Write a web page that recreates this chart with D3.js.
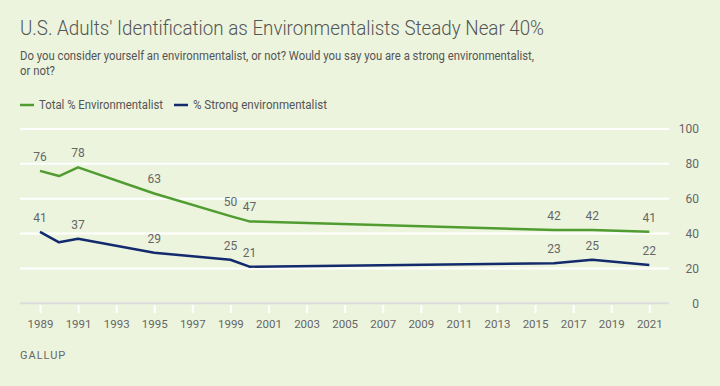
<!DOCTYPE html>
<html>
<head>
<meta charset="utf-8">
<script src="https://cdn.jsdelivr.net/npm/d3@7"></script>
<style>
  body { margin: 0; background: #ecf4de; }
  svg { display: block; font-family: Roboto, "Noto Sans", sans-serif; }
</style>
</head>
<body>
<svg id="chart" width="720" height="386"></svg>
<script>
// data
const years = [1989, 1990, 1991, 1995, 1999, 2000, 2016, 2018, 2021]
const totalEnv = [76, 73, 78, 63, 50, 47, 42, 42, 41]
const strongEnv = [41, 35, 37, 29, 25, 21, 23, 25, 22]
const labelledYears = [1989, 1991, 1995, 1999, 2000, 2016, 2018, 2021]
const xTicks = d3.range(1989, 2022, 2)
const yTicks = [0, 20, 40, 60, 80, 100]

const green = "#519c30"
const navy = "#132a6c"

const svg = d3.select("#chart")
svg.append("rect").attr("width", 720).attr("height", 386).attr("fill", "#ecf4de")

// title + question
svg.append("text")
    .attr("x", 20).attr("y", 35)
    .attr("font-size", 20).attr("font-weight", 300).attr("fill", "#555")
    .attr("textLength", 524).attr("lengthAdjust", "spacingAndGlyphs")
    .text("U.S. Adults' Identification as Environmentalists Steady Near 40%")

svg.append("text")
    .attr("x", 20).attr("y", 60)
    .attr("font-size", 12.5).attr("fill", "#555")
    .attr("textLength", 514).attr("lengthAdjust", "spacingAndGlyphs")
    .text("Do you consider yourself an environmentalist, or not? Would you say you are a strong environmentalist,")
svg.append("text")
    .attr("x", 20).attr("y", 75)
    .attr("font-size", 12.5).attr("fill", "#555")
    .attr("textLength", 35).attr("lengthAdjust", "spacingAndGlyphs")
    .text("or not?")

// legend
const legend = [
    {name: "Total % Environmentalist", color: green, x: 20, w: 124},
    {name: "% Strong environmentalist", color: navy, x: 174, w: 134}
]
legend.forEach(l => {
    svg.append("line")
        .attr("x1", l.x).attr("x2", l.x + 14)
        .attr("y1", 105).attr("y2", 105)
        .attr("stroke", l.color).attr("stroke-width", 2.5)
    svg.append("text")
        .attr("x", l.x + 19).attr("y", 109)
        .attr("font-size", 12).attr("fill", "#555")
        .attr("textLength", l.w).attr("lengthAdjust", "spacingAndGlyphs")
        .text(l.name)
})

// scales
const x = d3.scaleLinear().domain([1989, 2021]).range([40, 649.3])
const y = d3.scaleLinear().domain([0, 100]).range([303.3, 129])

// gridlines
svg.append("g")
    .selectAll("line")
    .data(yTicks.filter(d => d > 0))
    .join("line")
        .attr("x1", 20).attr("x2", 669)
        .attr("y1", d => y(d)).attr("y2", d => y(d))
        .attr("stroke", "#fff").attr("stroke-width", 2)

svg.append("line")
    .attr("x1", 20).attr("x2", 669)
    .attr("y1", y(0)).attr("y2", y(0))
    .attr("stroke", "#dcdcdc").attr("stroke-width", 2)

// y axis on the right
const yAxis = svg.append("g")
    .attr("transform", "translate(699,0)")
    .call(d3.axisLeft(y).tickValues(yTicks).tickSize(0).tickPadding(0))
yAxis.select(".domain").remove()
yAxis.selectAll("text")
    .attr("font-size", 12).attr("fill", "#666").attr("font-family", "Roboto, sans-serif")

// x axis
const xAxis = svg.append("g")
    .attr("transform", "translate(0,305)")
    .call(d3.axisBottom(x).tickValues(xTicks).tickFormat(d3.format("d")).tickSize(8).tickPadding(7))
xAxis.select(".domain").remove()
xAxis.selectAll(".tick line").attr("stroke", "#fff").attr("stroke-width", 2)
xAxis.selectAll("text")
    .attr("font-size", 11.5).attr("fill", "#666").attr("font-family", "Roboto, sans-serif")

// lines
const line = d3.line()
    .x(d => x(d[0]))
    .y(d => y(d[1]))

const series = [
    {values: totalEnv, color: green},
    {values: strongEnv, color: navy}
]

series.forEach(s => {
    const pts = years.map((yr, i) => [yr, s.values[i]])
    svg.append("path")
        .datum(pts)
        .attr("d", line)
        .attr("fill", "none")
        .attr("stroke", s.color)
        .attr("stroke-width", 2.5)
        .attr("stroke-linejoin", "round")

    svg.append("g")
        .selectAll("text")
        .data(pts.filter(d => labelledYears.includes(d[0])))
        .join("text")
            .attr("x", d => x(d[0]))
            .attr("y", d => y(d[1]) - 10)
            .attr("text-anchor", "middle")
            .attr("font-size", 12)
            .attr("fill", "#666")
            .text(d => d[1])
})

// source
svg.append("text")
    .attr("x", 20).attr("y", 359)
    .attr("font-size", 11).attr("fill", "#666")
    .attr("letter-spacing", 1)
    .text("GALLUP")
</script>
</body>
</html>
